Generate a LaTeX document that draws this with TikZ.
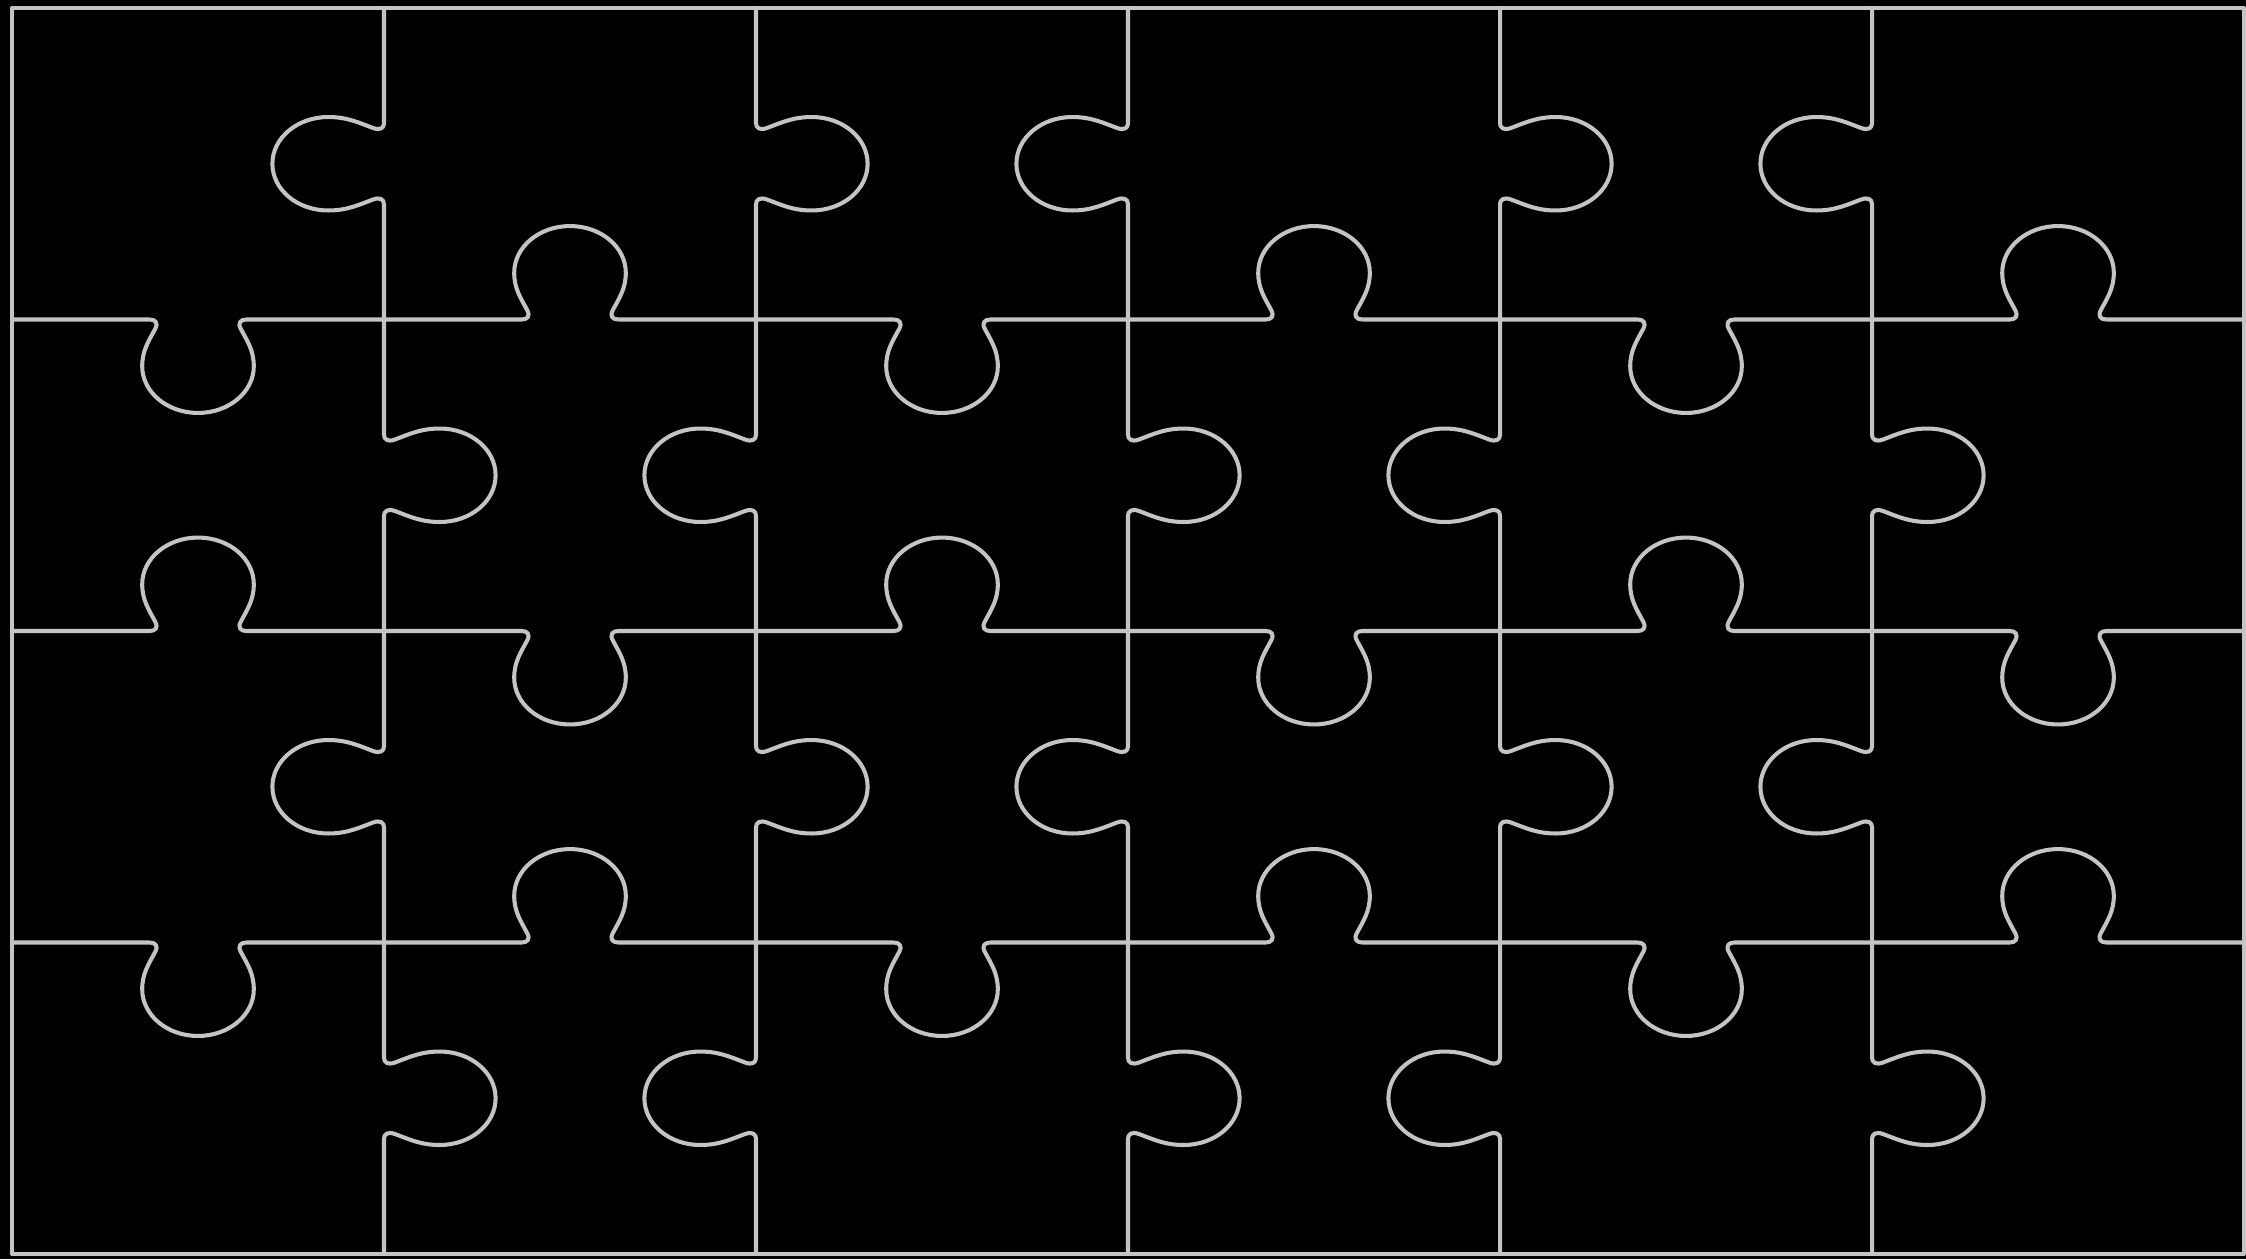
\documentclass[tikz,border=0pt]{standalone}
\usepackage{tikz}
\definecolor{linegray}{RGB}{196,196,196}
\tikzset{
  cutline/.style={draw=linegray, line width=1.15pt, line cap=round, line join=round}
}
% one puzzle edge in local percent coordinates: from (0,0) to (100,0), knob towards +v
\newcommand\tabedge[1]{%
  \draw[cutline,#1] (0,0) -- (37,0)
    .. controls (38.5,0) and (39.4,1) .. (38.5,3)
    .. controls (36.7,7) and (35,10) .. (35,15)
    .. controls (35,23.3) and (41.7,30) .. (50,30)
    .. controls (58.3,30) and (65,23.3) .. (65,15)
    .. controls (65,10) and (63.3,7) .. (61.5,3)
    .. controls (60.6,1) and (61.5,0) .. (63,0)
    -- (100,0);}
\begin{document}
\begin{tikzpicture}[x=0.01cm,y=0.01cm]
  \fill[black] (0,0) rectangle (2246,1259);
  \useasboundingbox (0,0) rectangle (2246,1259);
  % outer frame
  \draw[cutline] (12,5) rectangle (2244,1251);
  % horizontal edges
  \foreach \j in {1,2,3} {
    \foreach \i in {0,...,5} {
      \pgfmathsetmacro\PX{12+372*\i}
      \pgfmathsetmacro\PY{1251-311.5*\j}
      \pgfmathsetmacro\tsgn{3.115*(1-2*mod(\i+\j,2))}
      \tabedge{cm={3.72,0,0,\tsgn,(\PX,\PY)}}
    }
  }
  % vertical edges
  \foreach \i in {1,...,5} {
    \foreach \j in {0,...,3} {
      \pgfmathsetmacro\PX{12+372*\i}
      \pgfmathsetmacro\PY{1251-311.5*\j}
      \pgfmathsetmacro\tsgn{3.72*(1-2*mod(\i+\j,2))}
      \tabedge{cm={0,-3.115,\tsgn,0,(\PX,\PY)}}
    }
  }
\end{tikzpicture}
\end{document}
